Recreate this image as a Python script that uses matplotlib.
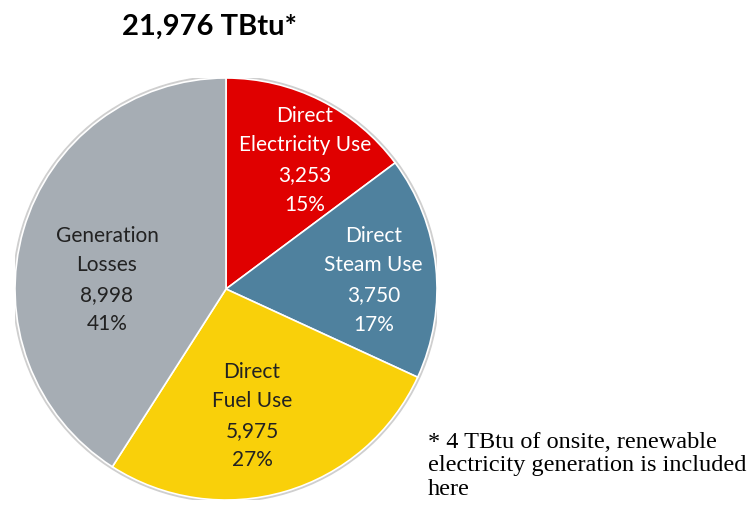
import numpy as np
import matplotlib
matplotlib.use('Agg')
import matplotlib.pyplot as plt
from matplotlib.patches import Circle

# data
labels = ['Direct\nElectricity Use', 'Direct\nSteam Use', 'Direct\nFuel Use', 'Generation\nLosses']
values = [3253, 3750, 5975, 8998]
colors = ['#E00000', '#4F819E', '#F9D00A', '#A6ADB4']
text_colors = ['white', 'white', '#222222', '#222222']
title = '21,976 TBtu*'
note = '* 4 TBtu of onsite, renewable\nelectricity generation is included\nhere'

# label placement (radius fraction, angle nudge in degrees)
label_r = [0.72, 0.70, 0.61, 0.566]
label_nudge = [-4.7, -2.2, -4.7, 11.5]

plt.rcParams['font.family'] = ['Lato', 'DejaVu Sans']

fig = plt.figure(figsize=(7.52, 5.06), dpi=100)
ax = fig.add_axes([15 / 752, 5 / 506, 422 / 752, 422 / 506])

# faint shadow ring around the pie
ax.add_patch(Circle((0, 0), 1.006, facecolor='none', edgecolor='#cfcfcf',
                    linewidth=2, zorder=0))
wedges, _ = ax.pie(values, colors=colors, startangle=90, counterclock=False,
                   radius=1, wedgeprops=dict(edgecolor='white', linewidth=1.2))
ax.set_xlim(-1, 1)
ax.set_ylim(-1, 1)
ax.set_aspect('equal')
ax.axis('off')

total = sum(values)
for w, lab, v, tc, r, dn in zip(wedges, labels, values, text_colors, label_r, label_nudge):
    ang = np.deg2rad((w.theta1 + w.theta2) / 2 + dn)
    x, y = r * np.cos(ang), r * np.sin(ang)
    pct = round(100 * v / total)
    ax.text(x, y, f'{lab}\n{v:,}\n{pct}%', ha='center', va='center',
            color=tc, fontsize=15, linespacing=1.6)

fig.text(210 / 752, 1 - 27 / 506, title, ha='center', va='center',
         fontsize=21, fontweight='bold', color='black')
fig.text(428 / 752, 1 - 466 / 506, note, ha='left', va='center',
         fontsize=17.5, family='Liberation Serif', linespacing=1.13)

fig.savefig('out.png', dpi=100)
